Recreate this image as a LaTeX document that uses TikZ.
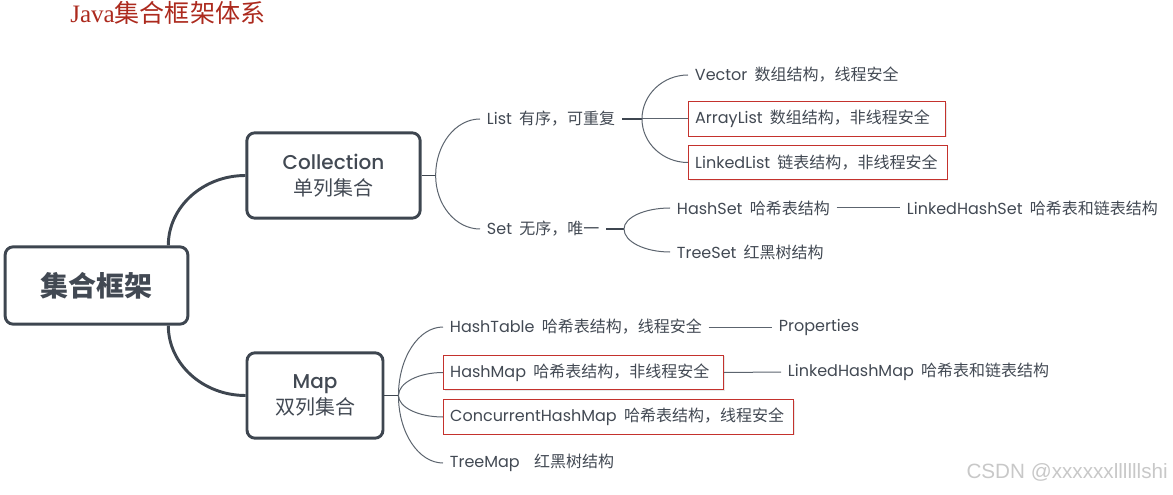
\documentclass[tikz,border=0pt]{standalone}
\usepackage{fontspec}
\setmainfont{Noto Sans CJK SC}
\newfontfamily\latfont{Poppins}
\newfontfamily\latmed{Poppins Medium}
\newfontfamily\titlefont{Liberation Serif}
\newfontfamily\markfont{Liberation Sans}
\usetikzlibrary{positioning, calc, shadows}
\definecolor{BoxLine}{RGB}{62,70,80}
\definecolor{TextDark}{RGB}{66,73,83}
\definecolor{BranchLine}{RGB}{92,100,110}
\definecolor{RedLine}{RGB}{196,50,45}
\definecolor{TitleRed}{RGB}{172,42,30}
\definecolor{MarkGray}{RGB}{200,200,200}
\newcommand{\en}[1]{{\latfont #1}}
% rounded mind-map link: leaves (#2) vertically, arrives at (#3) horizontally
\newcommand{\mmlink}[3]{\draw[#1] (#2) .. controls ($(#2)!0.55!(#2 |- #3)$) and ($(#3)!0.55!(#2 |- #3)$) .. (#3);}

\begin{document}
\begin{tikzpicture}[x=0.75pt, y=-0.75pt,
  mainbox/.style={draw=BoxLine, line width=2.2pt, rounded corners=6pt, text=TextDark, align=center},
  leaf/.style={anchor=west, inner xsep=5pt, inner ysep=2pt, text=TextDark, font=\fontsize{12pt}{14pt}\selectfont},
  redbox/.style={leaf, draw=RedLine, line width=0.8pt, text width=#1, minimum height=26pt,
    fill=white, drop shadow={opacity=0.18, shadow xshift=0.8pt, shadow yshift=-0.8pt}},
  thickbranch/.style={draw=BoxLine, line width=2.2pt},
  stem/.style={draw=BoxLine, line width=1.1pt},
  branch/.style={draw=BranchLine, line width=0.75pt}]
\useasboundingbox (0,0) rectangle (1173,495);

% title
\node[anchor=west, inner sep=0pt, text=TitleRed, font=\fontsize{18.8pt}{20pt}\selectfont] (title) at (70,13) {{\titlefont Java}集合框架体系};

% main boxes
\node[mainbox, minimum width=137pt, minimum height=58pt, font=\bfseries\fontsize{21pt}{24pt}\selectfont] (root) at (96.5,285.5) {集合框架};
\node[mainbox, minimum width=130pt, minimum height=64pt, font=\fontsize{15pt}{20pt}\selectfont] (coll) at (333.5,175.5) {{\latmed Collection}\\单列集合};
\node[mainbox, minimum width=102pt, minimum height=64pt, font=\fontsize{15pt}{20pt}\selectfont] (map) at (315,395.5) {{\latmed Map}\\双列集合};

\coordinate (rt) at ($(root.north east)+(-21,0)$);
\coordinate (rb) at ($(root.south east)+(-21,0)$);
\mmlink{thickbranch}{rt}{coll.west}
\mmlink{thickbranch}{rb}{map.west}

% Collection
\coordinate (jc) at ($(coll.east)+(14,0)$);
\node[leaf] (list) at (480,119) {\en{List}\hspace{.45em}有序，可重复};
\node[leaf] (set) at (480,229) {\en{Set}\hspace{.45em}无序，唯一};
\draw[stem] (coll.east) -- (jc);
\mmlink{branch}{jc}{list.west}
\mmlink{branch}{jc}{set.west}

% List
\coordinate (jlist) at (642,119);
\node[leaf] (vector) at (688,75) {\en{Vector}\hspace{.45em}数组结构，线程安全};
\node[redbox=183pt] (arraylist) at (688,119) {\mbox{\en{ArrayList}\hspace{.45em}数组结构，非线程安全}};
\node[redbox=184pt] (linkedlist) at (688,162.5) {\mbox{\en{LinkedList}\hspace{.45em}链表结构，非线程安全}};
\draw[stem] (list.east) -- (jlist);
\draw[branch] (jlist) -- (arraylist.west);
\mmlink{branch}{jlist}{vector.west}
\mmlink{branch}{jlist}{linkedlist.west}

% Set
\coordinate (jset) at (624,229);
\node[leaf] (hashset) at (670,208) {\en{HashSet}\hspace{.45em}哈希表结构};
\node[leaf] (treeset) at (670,252) {\en{TreeSet}\hspace{.45em}红黑树结构};
\node[leaf] (lhset) at (900,208) {\en{LinkedHashSet}\hspace{.45em}哈希表和链表结构};
\draw[stem] (set.east) -- (jset);
\mmlink{branch}{jset}{hashset.west}
\mmlink{branch}{jset}{treeset.west}
\draw[branch] (hashset.east) -- (lhset.west);

% Map
\coordinate (jmap) at ($(map.east)+(14,0)$);
\node[leaf] (hashtable) at (443,327) {\en{HashTable}\hspace{.45em}哈希表结构，线程安全};
\node[redbox=200pt] (hashmap) at (443,372.5) {\mbox{\en{HashMap}\hspace{.45em}哈希表结构，非线程安全}};
\node[redbox=252.5pt] (chm) at (443,417) {\mbox{\en{ConcurrentHashMap}\hspace{.45em}哈希表结构，线程安全}};
\node[leaf] (treemap) at (443,463) {\en{TreeMap}\hspace{.9em}红黑树结构};
\node[leaf] (props) at (772,327) {\en{Properties}};
\node[leaf] (lhmap) at (781,372) {\en{LinkedHashMap}\hspace{.45em}哈希表和链表结构};
\draw[stem] (map.east) -- (jmap);
\mmlink{branch}{jmap}{hashtable.west}
\mmlink{branch}{jmap}{hashmap.west}
\mmlink{branch}{jmap}{chm.west}
\mmlink{branch}{jmap}{treemap.west}
\draw[branch] (hashtable.east) -- (props.west);
\draw[branch] (hashmap.east) -- (lhmap.west);

% watermark
\node[anchor=east, inner sep=0pt, text=MarkGray, font=\markfont\fontsize{15.5pt}{17pt}\selectfont] (mark) at (1168,472) {CSDN @xxxxxxllllllshi};
\end{tikzpicture}
\end{document}
